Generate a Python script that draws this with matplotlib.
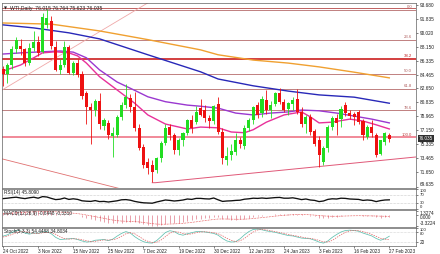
import matplotlib
matplotlib.use('Agg')
import matplotlib.pyplot as plt
import numpy as np

# ---------------- data ----------------
opens = [85.2, 84.5, 85.7, 87.9, 88.2, 87.8, 86.0, 88.0, 88.8, 87.5,
         91.0, 91.5, 88.1, 85.1, 85.8, 88.1, 84.7, 86.0, 84.6, 82.0,
         80.2, 79.8, 81.0, 77.7, 78.1, 76.4, 76.5, 78.9, 80.5, 81.4,
         80.2, 77.4, 74.9, 72.9, 72.5, 71.9, 73.5, 75.4, 77.6, 76.5,
         74.5, 75.8, 76.8, 78.5, 78.2, 80.1, 79.8, 78.8, 78.4, 80.6,
         76.9, 73.2, 73.8, 74.3, 75.8, 75.0, 77.4, 78.5, 80.5, 79.4,
         81.1, 79.8, 80.6, 82.1, 80.9, 79.9, 80.6, 81.3, 79.6, 78.0,
         78.9, 77.0, 75.9, 73.0, 74.8, 77.6, 78.7, 78.6, 80.5, 79.4,
         79.3, 79.5, 78.4, 76.3, 77.5, 76.5, 74.0, 75.6, 76.55]
highs = [85.6, 86.0, 88.3, 89.4, 89.2, 88.0, 88.6, 90.3, 89.6, 92.6,
         93.1, 92.2, 88.9, 86.6, 88.9, 88.4, 86.3, 86.5, 84.9, 82.3,
         80.7, 81.3, 82.0, 78.8, 78.5, 77.5, 79.2, 80.8, 83.3, 81.9,
         82.2, 77.9, 75.3, 73.5, 73.2, 73.6, 75.7, 77.9, 77.9, 76.7,
         76.1, 76.9, 78.6, 79.2, 80.3, 81.3, 80.5, 79.1, 80.5, 81.5,
         77.4, 74.9, 75.3, 76.7, 76.2, 77.8, 78.7, 80.3, 80.8, 81.6,
         82.4, 81.0, 82.2, 82.7, 81.3, 80.9, 81.5, 82.6, 80.2, 79.2,
         79.3, 77.3, 76.4, 75.1, 77.8, 79.0, 79.3, 80.3, 80.9, 79.8,
         79.6, 79.8, 78.6, 77.8, 78.5, 76.7, 75.9, 76.9, 76.764]
lows = [83.0, 83.4, 85.2, 87.4, 87.1, 85.6, 85.8, 87.6, 87.0, 87.3,
        90.6, 87.9, 85.0, 84.6, 85.5, 84.6, 84.4, 84.2, 81.2, 77.9,
        75.3, 79.0, 77.3, 77.2, 76.0, 73.6, 76.2, 78.5, 80.1, 79.5,
        77.0, 74.5, 72.2, 71.3, 70.3, 71.5, 73.0, 75.2, 75.9, 74.0,
        73.9, 75.0, 76.5, 76.8, 77.9, 79.0, 78.2, 77.4, 78.0, 76.6,
        72.7, 72.6, 73.2, 73.9, 74.8, 74.7, 77.0, 77.9, 78.8, 78.9,
        79.3, 78.8, 80.3, 80.6, 79.6, 79.2, 79.8, 79.3, 77.6, 76.8,
        76.5, 75.0, 72.3, 72.6, 74.3, 77.2, 76.5, 77.6, 79.0, 78.6,
        77.8, 77.9, 75.8, 76.0, 76.3, 73.6, 73.8, 75.2, 75.623]
closes = [84.5, 85.7, 87.9, 89.0, 87.8, 86.0, 88.0, 88.8, 87.3, 92.1,
          91.9, 88.2, 85.1, 85.8, 88.1, 84.7, 86.0, 84.4, 81.6, 80.2,
          79.8, 81.0, 77.9, 78.5, 76.5, 76.8, 78.9, 80.5, 81.5, 80.2,
          77.4, 74.8, 72.5, 72.1, 71.6, 73.5, 75.4, 77.4, 76.5, 74.5,
          75.8, 76.8, 78.5, 77.4, 79.5, 79.2, 78.8, 78.4, 80.3, 76.9,
          73.5, 73.7, 74.4, 75.8, 75.3, 77.4, 78.5, 80.2, 79.2, 81.3,
          79.8, 80.5, 82.0, 80.9, 79.8, 80.7, 81.1, 79.6, 78.0, 78.9,
          76.9, 75.3, 73.9, 74.8, 77.6, 78.7, 78.1, 80.0, 79.4, 79.0,
          78.9, 78.2, 76.5, 77.5, 76.8, 73.9, 75.8, 76.7, 76.035]

date_label_bars = [0, 8, 16, 24, 32, 40, 48, 56, 64, 72, 80, 88]
date_labels = ['24 Oct 2022', '3 Nov 2022', '15 Nov 2022', '25 Nov 2022',
               '7 Dec 2022', '19 Dec 2022', '30 Dec 2022', '12 Jan 2023',
               '24 Jan 2023', '3 Feb 2023', '16 Feb 2023', '27 Feb 2023']
price_ticks = [93.680, 91.835, 90.020, 88.150, 86.335, 84.465, 82.650,
               80.835, 78.965, 77.150, 75.335, 73.465, 71.650, 69.635]

# moving averages
ma_orange_bars = [0, 11, 22, 33, 45, 49, 57, 65, 72, 80, 88]
ma_orange_vals = [91.3, 91.15, 90.25, 89.1, 87.75, 87.1, 86.4, 86.0, 85.5, 84.8, 84.05]
ma_blue_bars = [0, 7, 15, 22, 33, 45, 49, 57, 65, 72, 80, 88]
ma_blue_vals = [91.05, 90.65, 90.0, 89.2, 87.1, 84.85, 83.9, 83.0, 82.3, 81.8, 81.5, 80.7]
ma_purple_bars = [0, 4, 9, 13, 16, 19, 22, 26, 30, 33, 37, 42, 45, 49, 53, 57, 61, 65, 68, 72, 76, 80, 84, 88]
ma_purple_vals = [87.2, 87.35, 87.5, 87.6, 87.45, 86.7, 85.1, 83.5, 82.4, 81.55, 80.9, 80.45,
                  80.3, 80.05, 79.4, 79.15, 79.4, 79.55, 79.8, 79.7, 79.4, 79.0, 78.6, 78.1]
ma_pink_bars = [0, 4, 7, 9, 12, 15, 17, 19, 22, 26, 30, 33, 37, 42, 45, 49, 52, 55, 57, 60,
                64, 68, 70, 72, 75, 79, 82, 85, 88]
ma_pink_vals = [84.95, 85.75, 86.7, 87.35, 87.5, 87.35, 86.95, 86.0, 84.2, 82.45, 80.7, 79.15,
                77.95, 77.3, 77.55, 77.45, 76.9, 76.8, 77.2, 78.2, 79.15, 79.55, 78.9, 78.1,
                78.2, 78.6, 78.35, 77.85, 77.3]

# fibonacci retracement
fib_top = 93.05
fib_bottom = 76.18
fib_levels = [0.0, 23.6, 38.2, 50.0, 61.8, 78.6, 100.0]
fib_texts = ['0.0', '23.6', '38.2', '50.0', '61.8', '78.6', '100.0']
extra_hline = 93.32

# trend lines (bar, price)
trend_up_bars = [-0.23, 36.0]
trend_up_vals = [82.44, 95.0]
trend_down_bars = [-0.23, 30.0]
trend_down_vals = [73.35, 68.92]
support_bars = [34.0, 34.7, 94.1]
support_vals = [70.2, 70.2, 73.6]

rsi = [52, 54, 57, 59, 55, 52, 56, 59, 54, 62,
       60, 53, 47, 49, 55, 48, 51, 48, 41, 39,
       38, 42, 37, 38, 35, 38, 41, 46, 47, 44,
       38, 34, 31, 30, 29, 35, 40, 45, 43, 40,
       42, 45, 50, 48, 53, 53, 51, 50, 55, 46,
       38, 40, 41, 43, 44, 49, 51, 54, 53, 55,
       53, 55, 57, 58, 54, 54, 56, 52, 47, 50,
       45, 43, 37, 40, 48, 51, 50, 54, 53, 50,
       49, 48, 43, 45, 43, 37, 42, 45, 45.809]
macd = [0.80, 0.85, 1.05, 1.25, 1.30, 1.25, 1.30, 1.33, 1.28, 1.33,
        1.30, 1.10, 0.75, 0.55, 0.55, 0.30, 0.15, -0.05, -0.40, -0.85,
        -1.20, -1.40, -1.75, -2.00, -2.30, -2.45, -2.45, -2.30, -2.10, -2.05,
        -2.20, -2.50, -2.85, -3.15, -3.32, -3.25, -3.00, -2.70, -2.50, -2.45,
        -2.30, -2.10, -1.80, -1.60, -1.30, -1.05, -0.90, -0.80, -0.55, -0.65,
        -1.05, -1.25, -1.35, -1.35, -1.30, -1.05, -0.80, -0.50, -0.30, -0.10,
        0.00, 0.15, 0.35, 0.50, 0.50, 0.50, 0.55, 0.45, 0.25, 0.15,
        -0.10, -0.35, -0.70, -0.90, -0.80, -0.60, -0.45, -0.25, -0.05, 0.00,
        0.00, -0.02, -0.20, -0.25, -0.35, -0.65, -0.70, -0.65, -0.6448]
macd_signal = [0.50, 0.57, 0.66, 0.78, 0.88, 0.96, 1.02, 1.09, 1.13, 1.17,
               1.20, 1.18, 1.09, 0.98, 0.89, 0.77, 0.65, 0.51, 0.33, 0.09,
               -0.17, -0.42, -0.68, -0.95, -1.22, -1.47, -1.66, -1.79, -1.85, -1.89,
               -1.95, -2.06, -2.22, -2.41, -2.59, -2.72, -2.78, -2.76, -2.71, -2.66,
               -2.59, -2.49, -2.35, -2.20, -2.02, -1.83, -1.64, -1.47, -1.29, -1.16,
               -1.14, -1.16, -1.20, -1.23, -1.24, -1.20, -1.12, -1.00, -0.86, -0.71,
               -0.57, -0.42, -0.27, -0.12, 0.00, 0.10, 0.19, 0.24, 0.24, 0.22,
               0.16, 0.06, -0.09, -0.18, -0.27, -0.31, -0.30, -0.28, -0.22, -0.18,
               -0.14, -0.12, -0.14, -0.16, -0.19, -0.22, -0.27, -0.31, -0.331]
stoch_k = [55, 62, 75, 86, 84, 72, 66, 72, 70, 78,
           80, 68, 48, 36, 38, 40, 42, 36, 28, 22,
           24, 32, 34, 36, 30, 38, 55, 70, 80, 72,
           52, 36, 24, 18, 16, 30, 52, 75, 85, 80,
           66, 60, 68, 74, 80, 80, 78, 74, 70, 60,
           42, 28, 22, 24, 40, 62, 80, 92, 94, 90,
           84, 80, 76, 70, 64, 58, 56, 50, 44, 42,
           40, 32, 22, 16, 28, 48, 64, 78, 86, 88,
           86, 82, 72, 64, 56, 42, 32, 40, 54.4488]
stoch_d = [50, 55, 64, 74, 82, 80, 74, 70, 69, 73,
           76, 75, 65, 51, 41, 38, 40, 39, 35, 29,
           25, 26, 30, 34, 33, 35, 41, 54, 68, 74,
           68, 53, 37, 26, 19, 21, 33, 52, 71, 80,
           77, 69, 65, 67, 74, 78, 79, 77, 74, 68,
           57, 43, 31, 25, 29, 42, 61, 78, 89, 92,
           89, 85, 80, 75, 70, 64, 59, 55, 50, 45,
           42, 38, 31, 23, 22, 31, 47, 63, 76, 84,
           87, 85, 80, 73, 64, 54, 43, 38, 34.8034]

title_text = 'WTI,Daily  76.015 76.764 75.623 76.035'
last_price = 76.035

# ---------------- figure ----------------
plt.rcParams['font.family'] = ['Liberation Sans', 'DejaVu Sans']
W, H = 440, 254
fig = plt.figure(figsize=(W / 100, H / 100), dpi=100)
fig.patch.set_facecolor('white')


def rect(x0, y0, x1, y1):
    return [x0 / W, 1 - y1 / H, (x1 - x0) / W, (y1 - y0) / H]


XL = (-0.23, 94.08)
FS = 3.4
frame_col = '#606060'

ax = fig.add_axes(rect(2, 3, 416, 188))
ax_rsi = fig.add_axes(rect(2, 189, 416, 209))
ax_macd = fig.add_axes(rect(2, 210, 416, 227))
ax_st = fig.add_axes(rect(2, 228, 416, 246))

for a in (ax, ax_rsi, ax_macd, ax_st):
    a.set_xlim(*XL)
    a.yaxis.tick_right()
    a.tick_params(axis='y', direction='out', length=1.5, width=0.4, pad=1.2,
                  labelsize=FS, colors='#202020')
    for s in a.spines.values():
        s.set_color(frame_col)
        s.set_linewidth(0.5)
    a.set_facecolor('white')
for a in (ax, ax_rsi, ax_macd):
    a.set_xticks([])

# ---- main chart ----
o = np.array(opens); h = np.array(highs); l = np.array(lows); c = np.array(closes)
x = np.arange(len(c))
green, red = '#22dd22', '#ee1111'
cols = np.where(c >= o, green, red)

ax.set_ylim(69.50, 93.94)
ax.set_yticks(price_ticks)
ax.set_yticklabels(['%.3f' % v for v in price_ticks])
ax.get_yticklabels()[-1].set_va('bottom')

# fib lines
for lev, txt in zip(fib_levels, fib_texts):
    p = fib_top - lev / 100.0 * (fib_top - fib_bottom)
    if lev == 38.2:
        col, lw, tcol = '#d03030', 1.3, '#c02020'
    elif lev == 100.0:
        col, lw, tcol = '#f08090', 1.3, '#c04040'
    else:
        col, lw, tcol = '#c08080', 0.7, '#b06060'
    ax.axhline(p, color=col, lw=lw, zorder=1)
    ax.text(93.2, p + 0.08, txt, fontsize=3.1, color=tcol, ha='right', va='bottom', zorder=6)
ax.axhline(extra_hline, color='#c06060', lw=0.7, zorder=1)

# trend lines
ax.plot(trend_up_bars, trend_up_vals, color='#f0a8a8', lw=0.6, zorder=1)
ax.plot(trend_down_bars, trend_down_vals, color='#e07070', lw=0.6, zorder=1)
ax.plot(support_bars, support_vals, color='#e05878', lw=0.7, zorder=1)

# moving averages
ax.plot(ma_orange_bars, ma_orange_vals, color='#f0a030', lw=1.0, zorder=2)
ax.plot(ma_blue_bars, ma_blue_vals, color='#2828b8', lw=1.0, zorder=2)
ax.plot(ma_purple_bars, ma_purple_vals, color='#9a38d0', lw=1.0, zorder=2)
ax.plot(ma_pink_bars, ma_pink_vals, color='#e8309a', lw=1.0, zorder=2)

# candles
ax.vlines(x, l, h, colors=cols, lw=0.6, zorder=3)
body = np.maximum(np.abs(c - o), 0.06)
ax.bar(x, body, bottom=np.minimum(o, c), width=0.7, color=cols, linewidth=0, zorder=4)

# title
ax.text(0.006, 0.982, '\u25bc', transform=ax.transAxes, fontsize=2.8, ha='left', va='top',
        family='DejaVu Sans', color='#202020', zorder=7)
ax.text(0.02, 0.985, title_text, transform=ax.transAxes, fontsize=3.7, ha='left', va='top',
        color='#202020', zorder=7)

# last price tag
ax.annotate('%.3f' % last_price, xy=(1.0, last_price), xycoords=('axes fraction', 'data'),
            xytext=(2.2, 0), textcoords='offset points', fontsize=3.3, color='white',
            ha='left', va='center', annotation_clip=False,
            bbox=dict(boxstyle='square,pad=0.15', fc='#303030', ec='none'), zorder=8)

# ---- RSI ----
ax_rsi.set_ylim(0, 100)
ax_rsi.axhline(70, color='#a0a0a0', lw=0.4, ls=(0, (1, 1.5)))
ax_rsi.axhline(30, color='#a0a0a0', lw=0.4, ls=(0, (1, 1.5)))
ax_rsi.plot(x, rsi, color='#101010', lw=0.95)
ax_rsi.set_yticks([100, 70, 30, 0])
ax_rsi.set_yticklabels(['100', '70', '30', '0'])
rl = ax_rsi.get_yticklabels()
rl[0].set_va('top'); rl[1].set_va('center'); rl[2].set_va('center'); rl[3].set_va('bottom')
for t in rl:
    t.set_fontsize(3.1)
ax_rsi.text(0.006, 0.93, 'RSI(14) 45.8090', transform=ax_rsi.transAxes, fontsize=FS,
            ha='left', va='top', color='#202020')

# ---- MACD ----
ax_macd.set_ylim(-3.63, 1.64)
ax_macd.vlines(x, 0, macd, colors='#e07888', lw=0.5)
ax_macd.plot(x, macd_signal, color='#e03030', lw=0.5, ls=(0, (1, 1.2)))
ax_macd.set_yticks([1.3274, 0.0, -3.3224])
ax_macd.set_yticklabels(['1.3274', '0.000', '-3.3224'])
ml = ax_macd.get_yticklabels()
ml[0].set_va('top'); ml[1].set_va('top'); ml[2].set_va('bottom')
ax_macd.text(0.006, 0.93, 'MACD(12,26,9) -0.6448 -0.3310', transform=ax_macd.transAxes,
             fontsize=FS, ha='left', va='top', color='#202020')

# ---- Stochastic ----
ax_st.set_ylim(0, 100)
ax_st.axhline(80, color='#b0b0b0', lw=0.4, ls=(0, (1, 1.5)))
ax_st.axhline(20, color='#b0b0b0', lw=0.4, ls=(0, (1, 1.5)))
ax_st.plot(x, stoch_k, color='#60c0b0', lw=0.55)
ax_st.plot(x, stoch_d, color='#e06060', lw=0.5, ls=(0, (2, 1.5)))
ax_st.set_yticks([100, 80, 20])
ax_st.set_yticklabels(['100', '80', '20'])
sl = ax_st.get_yticklabels()
sl[0].set_va('top'); sl[1].set_va('top')
for t in sl[:2]:
    t.set_fontsize(3.0)
ax_st.text(0.006, 0.95, 'Stoch(5,3,3) 54.4488 34.8034', transform=ax_st.transAxes,
           fontsize=FS, ha='left', va='top', color='#202020')
ax_st.set_xticks(date_label_bars)
ax_st.set_xticklabels(date_labels)
ax_st.tick_params(axis='x', direction='out', length=1.5, width=0.4, pad=0.8,
                  labelsize=3.3, colors='#202020')
for t in ax_st.get_xticklabels():
    t.set_ha('left')

fig.savefig('out.png', dpi=100, facecolor='white')
